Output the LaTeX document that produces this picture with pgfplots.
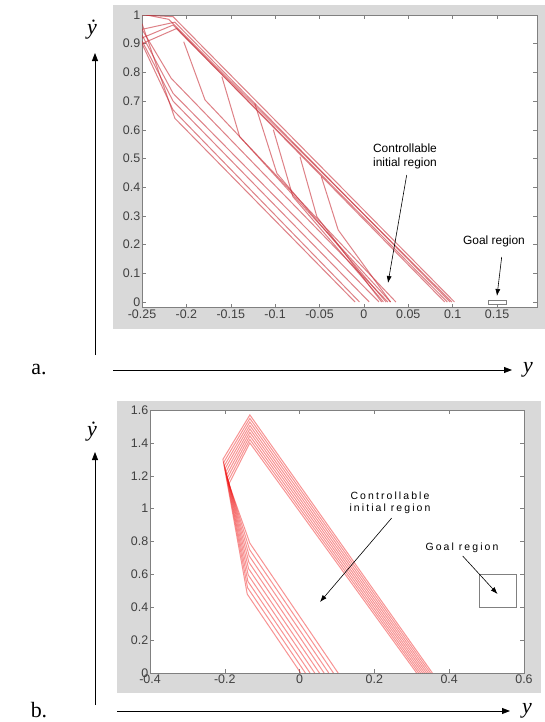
\documentclass[border=0pt]{standalone}
\usepackage{pgfplots}
\pgfplotsset{compat=1.18}
\usepackage{fontspec}
\setmainfont{Liberation Sans}
\newfontfamily\serif{Liberation Serif}
\newfontfamily\spaced{Liberation Sans}[LetterSpace=20]
\usetikzlibrary{arrows.meta}
\definecolor{panel}{gray}{0.85}
\definecolor{ticktxt}{gray}{0.25}
\definecolor{trA}{RGB}{200,45,55}
\definecolor{trB}{RGB}{240,15,15}

\pgfplotsset{
  matlab/.style={
    scale only axis, anchor=south west,
    axis background/.style={fill=white},
    axis line style={gray, line width=0.6bp},
    tick align=inside, major tick length=4bp,
    tick style={gray, line width=0.5bp},
    every tick label/.append style={font=\fontsize{12.5}{13}\selectfont, text=ticktxt, inner sep=1.5bp},
  },
  trajA/.style={trA, opacity=0.6, line width=1bp},
  trajB/.style={trB, opacity=0.45, line width=1bp},
}

\begin{document}
\begin{tikzpicture}
\path[use as bounding box] (0,0) rectangle (545bp,-722bp);
\fill[panel] (113bp,-5bp) rectangle (545bp,-329bp);
\fill[panel] (117bp,-401bp) rectangle (541bp,-693bp);

% ---- a. ----
\begin{axis}[matlab, at={(142bp,-307.7bp)}, width=395bp, height=292.7bp,
  xmin=-0.25, xmax=0.195, ymin=-0.02, ymax=1,
  xtick={-0.25,-0.2,-0.15,-0.1,-0.05,0,0.05,0.1,0.15},
  xticklabels={-0.25,-0.2,-0.15,-0.1,-0.05,0,0.05,0.1,0.15},
  ytick={0,0.1,0.2,0.3,0.4,0.5,0.6,0.7,0.8,0.9,1},
  yticklabels={0,0.1,0.2,0.3,0.4,0.5,0.6,0.7,0.8,0.9,1}]
% upper bundle
\addplot[trajA] coordinates {(-0.25,1.00) (-0.215,0.994) (0.102,0)};
\addplot[trajA] coordinates {(-0.245,1.00) (-0.22,0.985) (0.099,0)};
\addplot[trajA] coordinates {(-0.25,0.95) (-0.213,0.975) (0.097,0)};
\addplot[trajA] coordinates {(-0.25,0.92) (-0.215,0.965) (0.094,0)};
\addplot[trajA] coordinates {(-0.25,0.90) (-0.211,0.953) (0.091,0)};
% lower bundle
\addplot[trajA] coordinates {(-0.25,0.95) (-0.217,0.779) (0.027,0)};
\addplot[trajA] coordinates {(-0.25,0.93) (-0.215,0.727) (0.017,0)};
\addplot[trajA] coordinates {(-0.25,0.91) (-0.215,0.700) (0.006,0)};
\addplot[trajA] coordinates {(-0.25,0.90) (-0.215,0.669) (-0.005,0)};
\addplot[trajA] coordinates {(-0.25,0.97) (-0.213,0.640) (-0.010,0)};
% branching trajectories
\addplot[trajA] coordinates {(-0.203,0.907) (-0.179,0.704) (0.036,0)};
\addplot[trajA] coordinates {(-0.160,0.785) (-0.140,0.576) (0.030,0)};
\addplot[trajA] coordinates {(-0.123,0.692) (-0.098,0.448) (0.025,0)};
\addplot[trajA] coordinates {(-0.102,0.600) (-0.080,0.367) (0.022,0)};
\addplot[trajA] coordinates {(-0.072,0.506) (-0.053,0.297) (0.020,0)};
\addplot[trajA] coordinates {(-0.048,0.437) (-0.029,0.251) (0.030,0)};
% goal region
\draw[gray, line width=0.6bp] (axis cs:0.14,-0.008) rectangle (axis cs:0.16,0.005);
\end{axis}

% ---- b. ----
\begin{axis}[matlab, at={(150bp,-673bp)}, width=374bp, height=263bp,
  xmin=-0.4, xmax=0.6, ymin=0, ymax=1.6,
  xtick={-0.4,-0.2,0,0.2,0.4,0.6},
  xticklabels={-0.4,-0.2,0,0.2,0.4,0.6},
  ytick={0,0.2,0.4,0.6,0.8,1,1.2,1.4,1.6},
  yticklabels={0,0.2,0.4,0.6,0.8,1,1.2,1.4,1.6}]
\addplot[trajB] coordinates {(0.003,0) (-0.1400,0.4800) (-0.2050,1.3000) (-0.133,1.5700) (0.3550,0)};
\addplot[trajB] coordinates {(0.0155,0) (-0.1391,0.5188) (-0.2030,1.2810) (-0.133,1.5490) (0.3498,0)};
\addplot[trajB] coordinates {(0.028,0) (-0.1383,0.5575) (-0.2010,1.2620) (-0.133,1.5275) (0.3445,0)};
\addplot[trajB] coordinates {(0.0405,0) (-0.1374,0.5963) (-0.1990,1.2440) (-0.133,1.5060) (0.3393,0)};
\addplot[trajB] coordinates {(0.053,0) (-0.1365,0.6350) (-0.1970,1.2250) (-0.133,1.4850) (0.3340,0)};
\addplot[trajB] coordinates {(0.0655,0) (-0.1356,0.6738) (-0.1950,1.2060) (-0.133,1.4640) (0.3288,0)};
\addplot[trajB] coordinates {(0.078,0) (-0.1348,0.7125) (-0.1930,1.1880) (-0.133,1.4425) (0.3235,0)};
\addplot[trajB] coordinates {(0.0905,0) (-0.1339,0.7513) (-0.1910,1.1690) (-0.133,1.4210) (0.3183,0)};
\addplot[trajB] coordinates {(0.103,0) (-0.1330,0.7900) (-0.1890,1.1500) (-0.133,1.4000) (0.3130,0)};
\draw[gray, line width=0.6bp] (axis cs:0.48,0.4) rectangle (axis cs:0.58,0.6);
\end{axis}

\begin{scope}[x=1bp, y=-1bp]
% annotations a.
\node[font=\fontsize{12}{14}\selectfont, align=center] at (405,156) {Controllable\\initial region};
\draw[-{Latex[length=7bp,width=5bp]}, line width=0.6bp] (406.7,175) -- (388,283);
\node[font=\fontsize{12}{14}\selectfont] at (494,241) {Goal region};
\draw[-{Latex[length=7bp,width=5bp]}, line width=0.6bp] (501.7,257) -- (497,296);
% annotations b.
\node[font=\spaced\fontsize{10.5}{12}\selectfont, align=center] at (390,503) {Controllable\\initial region};
\draw[-{Latex[length=7bp,width=5bp]}, line width=0.6bp] (391.7,518) -- (320,602);
\node[font=\spaced\fontsize{10.5}{12}\selectfont] at (462,548) {Goal region};
\draw[-{Latex[length=7bp,width=5bp]}, line width=0.6bp] (462.7,556) -- (497.5,594);
% outer labels
\node[font=\serif\itshape\fontsize{22}{24}\selectfont] at (92,30) {\.{y}};
\draw[-{Triangle[length=8bp,width=6bp]}, line width=0.8bp] (95,355) -- (95,53);
\draw[-{Triangle[length=8bp,width=6bp]}, line width=0.8bp] (113,370) -- (512,370);
\node[font=\serif\itshape\fontsize{22}{24}\selectfont] at (528,370) {y};
\node[font=\serif\fontsize{22}{24}\selectfont] at (39,370) {a.};
\node[font=\serif\itshape\fontsize{22}{24}\selectfont] at (92,432) {\.{y}};
\draw[-{Triangle[length=8bp,width=6bp]}, line width=0.8bp] (95,705) -- (95,452);
\draw[-{Triangle[length=8bp,width=6bp]}, line width=0.8bp] (117,711) -- (510,711);
\node[font=\serif\itshape\fontsize{22}{24}\selectfont] at (527,711) {y};
\node[font=\serif\fontsize{22}{24}\selectfont] at (39,710) {b.};
\end{scope}
\end{tikzpicture}
\end{document}
